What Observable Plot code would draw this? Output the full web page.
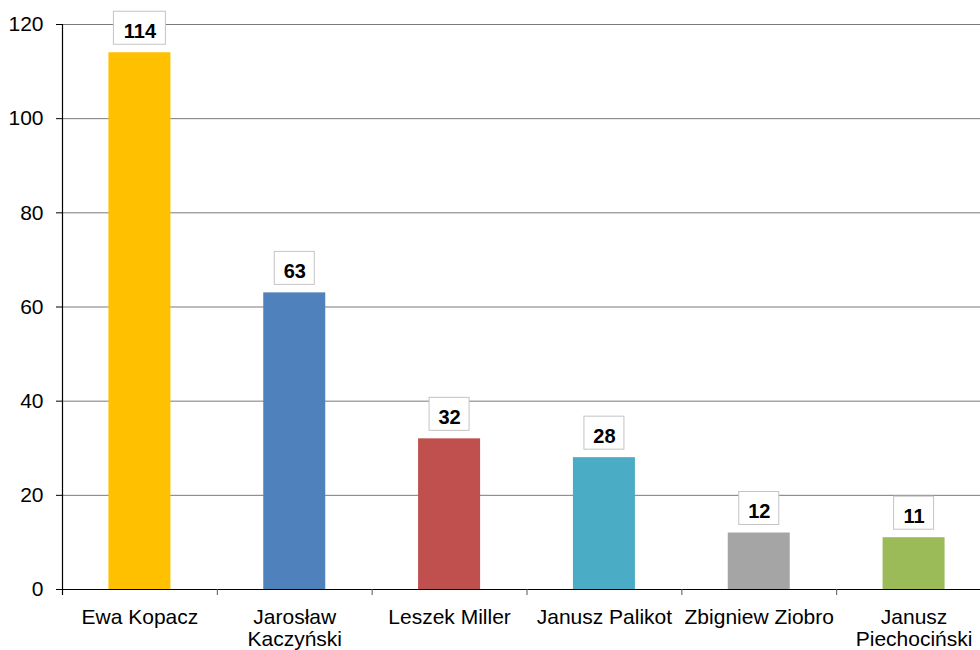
<!DOCTYPE html>
<html>
<head>
<meta charset="utf-8">
<script src="https://cdn.jsdelivr.net/npm/d3@7"></script>
<script src="https://cdn.jsdelivr.net/npm/@observablehq/plot@0.6"></script>
<style>
  html, body { margin: 0; padding: 0; background: #fff; }
  svg { display: block; }
</style>
</head>
<body>
<div id="chart"></div>
<script>
const categories = ["Ewa Kopacz", "Jarosław Kaczyński", "Leszek Miller", "Janusz Palikot", "Zbigniew Ziobro", "Janusz Piechociński"];
const tickLabels = ["Ewa Kopacz", "Jarosław\nKaczyński", "Leszek Miller", "Janusz Palikot", "Zbigniew Ziobro", "Janusz\nPiechociński"];
const values = [114, 63, 32, 28, 12, 11];
const colors = ["#FFC000", "#4F81BD", "#C0504D", "#4BACC6", "#A5A5A5", "#9BBB59"];
const yTicks = [0, 20, 40, 60, 80, 100, 120];

const data = categories.map((c, i) => ({name: c, value: values[i], color: colors[i], label: String(values[i])}));

const W = 980, H = 650;
const left = 62, rightEdge = 991;
const step = (rightEdge - left) / categories.length;
const barW = 62;
const boxW = n => n.length >= 3 ? 52 : 40;

const labelOf = new Map(categories.map((c, i) => [c, tickLabels[i]]));

const boxMark = (filterFn) => {
  const sub = data.filter(filterFn);
  const inset = (step - boxW(sub[0].label)) / 2;
  return Plot.barY(sub, {
    x: "name", y1: "value", y2: "value",
    fill: "white", stroke: "#c4c4c4", strokeWidth: 1,
    insetTop: -41, insetBottom: 8,
    insetLeft: inset, insetRight: inset
  });
};

const chart = Plot.plot({
  width: W, height: H,
  marginLeft: left, marginRight: 0, marginTop: 24, marginBottom: 61,
  style: {fontFamily: "'Liberation Sans', Arial, sans-serif", fontSize: "21px", color: "#000", background: "#fff"},
  x: {domain: categories, range: [left, rightEdge], padding: 0, round: false, label: null},
  y: {domain: [0, 120], label: null},
  marks: [
    Plot.ruleY(yTicks.filter(t => t > 0), {stroke: "#7a7a7a", strokeWidth: 1}),
    Plot.barY(data, {x: "name", y: "value", fill: "color", insetLeft: (step - barW) / 2, insetRight: (step - barW) / 2}),
    Plot.ruleY([0], {stroke: "#000", strokeWidth: 1.2}),
    Plot.ruleX(categories, {x: d => d, dx: -step / 2, y1: 0, y2: 0, insetBottom: -6, stroke: "#555"}),
    Plot.ruleX([categories[0]], {x: d => d, dx: -step / 2, y1: 120, y2: 0, insetBottom: -6, stroke: "#000", strokeWidth: 1.2}),
    Plot.axisY({ticks: yTicks, tickSize: 6, tickPadding: 13, fontSize: 21, stroke: "#000", fill: "#000"}),
    Plot.axisX({tickSize: 0, tickPadding: 18, fontSize: 21, fill: "#000", lineHeight: 1.08, tickFormat: d => labelOf.get(d)}),
    boxMark(d => d.label.length >= 3),
    boxMark(d => d.label.length < 3),
    Plot.text(data, {x: "name", y: "value", text: "label", dy: -21, fontSize: 20, fontWeight: "bold", fill: "#000"})
  ]
});
document.getElementById("chart").appendChild(chart);
</script>
</body>
</html>
